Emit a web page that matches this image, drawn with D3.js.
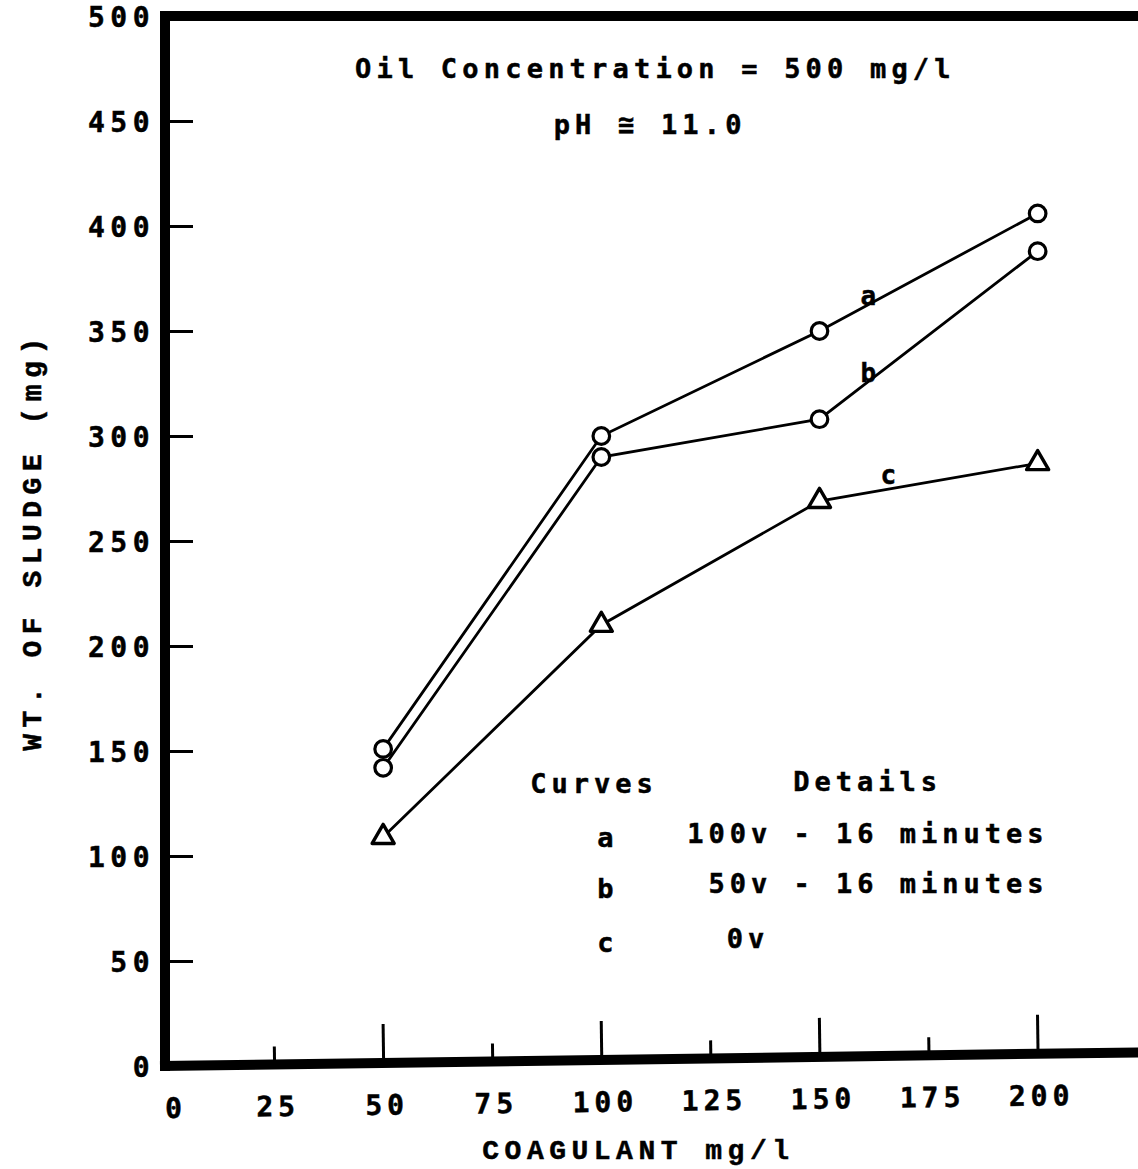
<!DOCTYPE html>
<html>
<head>
<meta charset="utf-8">
<script src="https://cdn.jsdelivr.net/npm/d3@7"></script>
<style>
  html, body { margin: 0; padding: 0; background: #fff; }
  svg { display: block; }
  svg text { stroke: #000; stroke-width: 0.5px; }
</style>
</head>
<body>
<svg id="chart" width="1138" height="1169"></svg>
<script>
// ---- Data ----
const coagulant = [50, 100, 150, 200];
const curveA = [151, 300, 350, 406];   // 100v - 16 minutes
const curveB = [142, 290, 308, 388];   // 50v - 16 minutes
const curveC = [109, 210, 269, 287];   // 0v
const xTicks = [0, 25, 50, 75, 100, 125, 150, 175, 200];
const yTicks = [0, 50, 100, 150, 200, 250, 300, 350, 400, 450, 500];
const seriesNames = ["a", "b", "c"];
const legendDetails = ["100v - 16 minutes", "50v - 16 minutes", "0v"];
const noteLines = ["Oil Concentration = 500 mg/l", "pH \u2245 11.0"];

(function () {
const W = 1138, H = 1169;
const mLeft = 165, mTop = 16, mBottom = 1066;
const svg = d3.select("#chart");

const x = d3.scaleLinear().domain([0, 223]).range([mLeft, W]);
const y = d3.scaleLinear().domain([0, 500]).range([mBottom, mTop]);

const monoSans = "'DejaVu Sans Mono', monospace";
const monoSerif = "'Liberation Mono', 'Courier New', monospace";

// ---- Frame: top border ----
svg.append("line")
  .attr("x1", mLeft - 5).attr("x2", W)
  .attr("y1", y(500)).attr("y2", y(500))
  .attr("stroke", "#000").attr("stroke-width", 10);

// ---- Y axis ----
const yAxis = d3.axisLeft(y).tickValues(yTicks).tickSize(0).tickPadding(10);
const gy = svg.append("g").attr("transform", `translate(${mLeft},0)`).call(yAxis);
gy.select(".domain").attr("stroke", "#000").attr("stroke-width", 10)
  .attr("d", `M0,${y(500) - 5}V${y(0) + 5}`);
gy.selectAll(".tick text")
  .attr("font-family", monoSans).attr("font-weight", "bold")
  .attr("font-size", 28).attr("letter-spacing", 5.5).attr("fill", "#000")
  .attr("dy", "0.38em");
gy.selectAll(".tick").filter(d => d !== 0 && d !== 500)
  .append("line").attr("x1", 0).attr("x2", 28)
  .attr("stroke", "#000").attr("stroke-width", 3);

// ---- X axis (slightly tilted like the scan) ----
const xAxis = d3.axisBottom(x).tickValues(xTicks).tickSize(0).tickPadding(32);
const gx = svg.append("g")
  .attr("transform", `translate(0,${mBottom}) rotate(-0.8, ${mLeft}, 0)`)
  .call(xAxis);
gx.select(".domain").attr("stroke", "#000").attr("stroke-width", 10)
  .attr("d", `M${mLeft - 5},0H${W + 20}`);
gx.selectAll(".tick text")
  .attr("font-family", monoSans).attr("font-weight", "bold")
  .attr("font-size", 28).attr("letter-spacing", 5).attr("fill", "#000")
  .attr("dx", d => d === 0 ? 10 : 3);
gx.selectAll(".tick").filter(d => d !== 0)
  .append("line")
  .attr("y1", 0).attr("y2", d => (d % 50 === 0) ? -39 : -18)
  .attr("stroke", "#000").attr("stroke-width", 3);

// ---- Axis titles ----
svg.append("text")
  .attr("transform", `translate(34,${y(250)}) rotate(-90)`)
  .attr("text-anchor", "middle").attr("dominant-baseline", "middle")
  .attr("font-family", monoSerif).attr("font-weight", "bold")
  .attr("font-size", 28).attr("letter-spacing", 6.5).attr("fill", "#000")
  .text("WT. OF SLUDGE (mg)");
svg.append("text")
  .attr("x", x(108.5)).attr("y", 1152)
  .attr("text-anchor", "middle").attr("dominant-baseline", "middle")
  .attr("font-family", monoSerif).attr("font-weight", "bold")
  .attr("font-size", 28).attr("letter-spacing", 5.5).attr("fill", "#000")
  .text("COAGULANT mg/l");

// ---- Series ----
const series = [
  { name: "a", values: curveA, marker: "circle" },
  { name: "b", values: curveB, marker: "circle" },
  { name: "c", values: curveC, marker: "triangle" }
];
const line = d3.line().x(d => x(d[0])).y(d => y(d[1]));

series.forEach(s => {
  const pts = coagulant.map((c, i) => [c, s.values[i]]);
  svg.append("path").datum(pts)
    .attr("d", line).attr("fill", "none")
    .attr("stroke", "#000").attr("stroke-width", 2.8);
});
series.forEach(s => {
  const pts = coagulant.map((c, i) => [c, s.values[i]]);
  if (s.marker === "circle") {
    svg.selectAll(null).data(pts).enter().append("circle")
      .attr("cx", d => x(d[0])).attr("cy", d => y(d[1])).attr("r", 8.3)
      .attr("fill", "#fff").attr("stroke", "#000").attr("stroke-width", 3.2);
  } else {
    svg.selectAll(null).data(pts).enter().append("path")
      .attr("d", d3.symbol().type(d3.symbolTriangle).size(210))
      .attr("transform", d => `translate(${x(d[0])},${y(d[1])})`)
      .attr("fill", "#fff").attr("stroke", "#000").attr("stroke-width", 3.4)
      .attr("stroke-linejoin", "round");
  }
});

// ---- Curve labels ----
const curveLabelPos = [[161.2, 366], [161.2, 329.5], [165.8, 280.5]];
seriesNames.forEach((n, i) => {
  svg.append("text")
    .attr("x", x(curveLabelPos[i][0])).attr("y", y(curveLabelPos[i][1]))
    .attr("text-anchor", "middle").attr("dominant-baseline", "middle")
    .attr("font-family", monoSans).attr("font-weight", "bold")
    .attr("font-size", 26).attr("fill", "#000")
    .text(n);
});

// ---- Notes at top ----
const notePos = [[112.4, 474], [111.2, 447.6]];
noteLines.forEach((t, i) => {
  svg.append("text")
    .attr("x", x(notePos[i][0])).attr("y", y(notePos[i][1]))
    .attr("text-anchor", "middle").attr("dominant-baseline", "middle")
    .attr("font-family", monoSans).attr("font-weight", "bold")
    .attr("font-size", 27).attr("letter-spacing", 5.2).attr("fill", "#000")
    .text(t);
});

// ---- Legend table ----
const legendFont = sel => sel
  .attr("font-family", monoSans).attr("font-weight", "bold")
  .attr("font-size", 27).attr("letter-spacing", 5).attr("fill", "#000")
  .attr("dominant-baseline", "middle");

svg.append("text").attr("x", x(83.7)).attr("y", y(133.5)).text("Curves").call(legendFont);
svg.append("text").attr("x", x(144)).attr("y", y(134.4)).text("Details").call(legendFont);

const legendRowY = [109, 85, 59];
seriesNames.forEach((n, i) => {
  svg.append("text").attr("x", x(101.5)).attr("y", y(legendRowY[i] - 1.2))
    .attr("text-anchor", "middle").text(n).call(legendFont);
  svg.append("text").attr("x", x(i === 2 ? 138.5 : 202.5)).attr("y", y(legendRowY[i] + 0.8))
    .attr("text-anchor", "end").text(legendDetails[i]).call(legendFont);
});
})();
</script>
</body>
</html>
